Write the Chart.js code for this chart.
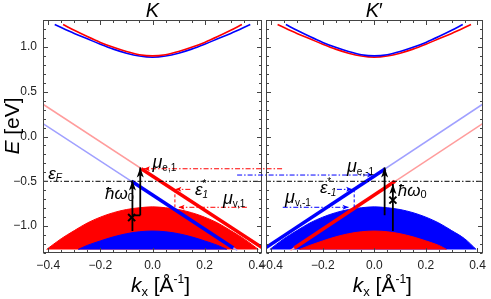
<!DOCTYPE html>
<html><head><meta charset="utf-8">
<script src="https://cdn.jsdelivr.net/npm/chart.js@4.4.1/dist/chart.umd.min.js"></script>
<style>
html,body{margin:0;padding:0;background:#fff;}
#wrap{position:relative;width:491px;height:299px;overflow:hidden;background:#fff}
#wrap canvas{position:absolute;left:0;top:0}
</style></head><body>
<div id="wrap"><canvas id="cK" width="491" height="299"></canvas><canvas id="cKp" width="491" height="299"></canvas></div>
<script>
// ================= DATA =================
const xTickValues = [-0.4, -0.2, 0.0, 0.2, 0.4];
const yTickValues = [-1.0, -0.5, 0.0, 0.5, 1.0];
const kRange = [-0.42, 0.42];
const eRange = [-1.3, 1.3];
const fermiLevel = -0.5;
const bandFloor = -1.26;

// ---- valley K ----
const condBlueK = [[-0.375,1.25],[-0.3,1.15],[-0.25,1.09],[-0.2,1.03],[-0.15,0.975],[-0.1,0.93],[-0.05,0.898],[0,0.885],[0.05,0.898],[0.1,0.93],[0.15,0.975],[0.2,1.03],[0.25,1.09],[0.3,1.15],[0.375,1.25]];
const condRedK  = [[-0.343,1.25],[-0.3,1.185],[-0.25,1.115],[-0.2,1.05],[-0.15,0.995],[-0.1,0.948],[-0.05,0.913],[0,0.90],[0.05,0.913],[0.1,0.948],[0.15,0.995],[0.2,1.05],[0.25,1.115],[0.3,1.185],[0.343,1.25]];
const valRedK   = [[-0.406,-1.26],[-0.35,-1.14],[-0.3,-1.05],[-0.25,-0.965],[-0.2,-0.90],[-0.15,-0.85],[-0.1,-0.815],[-0.05,-0.795],[0,-0.785],[0.05,-0.795],[0.1,-0.815],[0.15,-0.85],[0.2,-0.90],[0.25,-0.965],[0.3,-1.05],[0.35,-1.14],[0.406,-1.26]];
const valBlueK  = [[-0.285,-1.26],[-0.25,-1.215],[-0.2,-1.165],[-0.15,-1.12],[-0.1,-1.085],[-0.05,-1.063],[0,-1.055],[0.05,-1.063],[0.1,-1.085],[0.15,-1.12],[0.2,-1.165],[0.25,-1.215],[0.285,-1.26]];
const diracRedK  = [[-0.42,0.36],[0.42,-1.24]];
const diracBlueK = [[-0.42,0.145],[0.325,-1.27]];
const occRedK    = [[-0.043,-0.36],[0.42,-1.24]];
const occBlueK   = [[-0.08,-0.50],[0.31,-1.245]];
const muElecK    = [[0.497,-0.36],[-0.033,-0.36]];
const epsStarK   = [[0.145,-0.59],[0.088,-0.59]];
const epsDropK   = [[0.086,-0.59],[0.086,-0.79]];
const muValK     = [[0.362,-0.79],[0.10,-0.79]];
const pumpAK     = [[-0.077,-1.055],[-0.077,-0.49]];
const pumpBK     = [[-0.047,-0.88],[-0.047,-0.345]];
const pumpLinkK  = [[-0.077,-0.88],[-0.047,-0.88]];
const crossK     = [[-0.08,-0.905]];

// ---- valley K' ----
const condBlueKp = [[-0.343,1.25],[-0.3,1.185],[-0.25,1.115],[-0.2,1.05],[-0.15,0.995],[-0.1,0.948],[-0.05,0.913],[0,0.90],[0.05,0.913],[0.1,0.948],[0.15,0.995],[0.2,1.05],[0.25,1.115],[0.3,1.185],[0.343,1.25]];
const condRedKp  = [[-0.375,1.25],[-0.3,1.15],[-0.25,1.09],[-0.2,1.03],[-0.15,0.975],[-0.1,0.93],[-0.05,0.898],[0,0.885],[0.05,0.898],[0.1,0.93],[0.15,0.975],[0.2,1.03],[0.25,1.09],[0.3,1.15],[0.375,1.25]];
const valBlueKp  = [[-0.405,-1.26],[-0.35,-1.14],[-0.3,-1.05],[-0.25,-0.965],[-0.2,-0.90],[-0.15,-0.85],[-0.1,-0.815],[-0.05,-0.795],[0,-0.785],[0.05,-0.795],[0.1,-0.815],[0.15,-0.85],[0.2,-0.90],[0.25,-0.965],[0.3,-1.05],[0.35,-1.14],[0.395,-1.26]];
const valRedKp   = [[-0.29,-1.26],[-0.25,-1.215],[-0.2,-1.165],[-0.15,-1.12],[-0.1,-1.085],[-0.05,-1.063],[0,-1.055],[0.05,-1.063],[0.1,-1.085],[0.15,-1.12],[0.2,-1.165],[0.25,-1.215],[0.28,-1.26]];
const diracBlueKp = [[-0.42,-1.24],[0.42,0.36]];
const diracRedKp  = [[-0.325,-1.27],[0.42,0.145]];
const occBlueKp   = [[-0.42,-1.24],[0.043,-0.36]];
const occRedKp    = [[-0.31,-1.245],[0.08,-0.50]];
const muElecKp    = [[-0.532,-0.43],[-0.005,-0.43]];
const epsStarKp   = [[-0.145,-0.59],[-0.086,-0.59]];
const epsDropKp   = [[-0.078,-0.59],[-0.078,-0.79]];
const muValKp     = [[-0.355,-0.79],[-0.10,-0.79]];
const pumpAKp     = [[0.040,-0.88],[0.040,-0.345]];
const pumpBKp     = [[0.072,-1.055],[0.072,-0.53]];
const crossKp     = [[0.072,-0.71]];

// ================= STYLE / DRAWING =================
const FONT = '"Liberation Sans", "DejaVu Sans", Arial, sans-serif';
const RED = '#ff0000', BLUE = '#0000ff', LRED = '#ff9c9c', LBLUE = '#a0a0ff';
const DASHDOT = [5, 2, 1.5, 2];
const f = (size, italic) => (italic ? 'italic ' : '') + size + 'px ' + FONT;
const fmt = v => (v < 0 ? '\u2212' : '') + Math.abs(v).toFixed(1);

const panels = [
  {
    canvas: 'cK', area: [43, 262], showY: true,
    title: [['K', f(20, true), 0]],
    domes: [[valRedK, RED], [valBlueK, BLUE]],
    dirac: [[diracRedK, LRED], [diracBlueK, LBLUE]],
    occupied: [[occBlueK, BLUE], [occRedK, RED]],
    cond: [[condBlueK, BLUE], [condRedK, RED]],
    dash: [[muElecK, RED, true], [epsStarK, RED, true], [muValK, RED, true]],
    drops: [[epsDropK, RED]],
    pumps: [pumpAK, pumpBK], links: [pumpLinkK], cross: crossK,
    labels: [
      {at: [-0.40, -0.42], parts: [['\u03B5', f(17, true), 0], ['F', f(10, true), 4]]},
      {at: [-0.182, -0.645], parts: [['\u0127\u03C9', f(17, true), 0], ['0', f(11, false), 4]]},
      {at: [0.0, -0.30], parts: [['\u03BC', f(18, true), 0], ['e,1', f(10, false), 5]]},
      {at: [0.163, -0.60], parts: [['\u03B5', f(17, true), 0], ['*', f(10, false), -6], ['1', f(10, true), 5, true]]},
      {at: [0.27, -0.70], parts: [['\u03BC', f(18, true), 0], ['v,1', f(10, false), 5]]}
    ]
  },
  {
    canvas: 'cKp', area: [266, 483], showY: false,
    title: [['K', f(20, true), 0], ['\u2032', f(20, false), 0]],
    domes: [[valBlueKp, BLUE], [valRedKp, RED]],
    dirac: [[diracBlueKp, LBLUE], [diracRedKp, LRED]],
    occupied: [[occRedKp, RED], [occBlueKp, BLUE]],
    cond: [[condRedKp, RED], [condBlueKp, BLUE]],
    dash: [[muElecKp, BLUE, true], [epsStarKp, BLUE, true], [muValKp, BLUE, true]],
    drops: [[epsDropKp, BLUE]],
    pumps: [pumpAKp, pumpBKp], links: [], cross: crossKp,
    labels: [
      {at: [-0.106, -0.342], parts: [['\u03BC', f(18, true), 0], ['e,-1', f(10, false), 5]]},
      {at: [-0.211, -0.576], parts: [['\u03B5', f(17, true), 0], ['*', f(10, false), -6], ['-1', f(10, true), 5, true]]},
      {at: [-0.346, -0.688], parts: [['\u03BC', f(18, true), 0], ['v,-1', f(10, false), 5]]},
      {at: [0.091, -0.61], parts: [['\u0127\u03C9', f(17, true), 0], ['0', f(11, false), 4]]}
    ]
  }
];

const toPts = arr => arr.map(p => ({x: p[0], y: p[1]}));

function buildDatasets(P) {
  const list = [];
  const add = (pts, color, width, extra) => list.push(Object.assign({
    data: toPts(pts), borderColor: color, backgroundColor: color, borderWidth: width,
    pointRadius: 0, fill: false, tension: 0
  }, extra || {}));
  P.domes.forEach(([pts, c]) => add(pts, c, 1, {fill: {value: bandFloor}, cubicInterpolationMode: 'monotone'}));
  P.dirac.forEach(([pts, c]) => add(pts, c, 1.5));
  P.occupied.forEach(([pts, c]) => add(pts, c, 3.5));
  P.cond.forEach(([pts, c]) => add(pts, c, 1.6, {cubicInterpolationMode: 'monotone'}));
  add([[kRange[0], fermiLevel], [kRange[1], fermiLevel]], '#000', 1, {borderDash: DASHDOT});
  P.dash.forEach(([pts, c]) => add(pts, c, 1, {borderDash: DASHDOT, clip: false}));
  P.drops.forEach(([pts, c]) => add(pts, c, 1, {borderDash: [3, 2]}));
  P.pumps.forEach(pts => add(pts, '#000', 1.8));
  P.links.forEach(pts => add(pts, '#000', 1.8));
  add(P.cross, '#000', 2, {showLine: false, pointStyle: 'crossRot', pointRadius: 5, pointBorderWidth: 2, pointBorderColor: '#000'});
  return list.reverse();
}

function head(ctx, x1, y1, x2, y2, len, hw, color) {
  const ang = Math.atan2(y2 - y1, x2 - x1);
  ctx.save(); ctx.translate(x2, y2); ctx.rotate(ang);
  ctx.beginPath(); ctx.moveTo(0, 0); ctx.lineTo(-len, hw); ctx.lineTo(-len * 0.75, 0); ctx.lineTo(-len, -hw); ctx.closePath();
  ctx.fillStyle = color; ctx.fill(); ctx.restore();
}

function rich(ctx, x, y, parts, align) {
  let w = 0, prevStart = x;
  const m = parts.map(p => { ctx.font = p[1]; return ctx.measureText(p[0]).width; });
  parts.forEach((p, i) => { if (!p[3]) w += m[i]; });
  let cx = align === 'center' ? x - w / 2 : x;
  parts.forEach((p, i) => {
    ctx.font = p[1];
    let px = cx;
    if (p[3]) px = prevStart; else prevStart = cx;
    ctx.fillText(p[0], px, y + p[2]);
    if (!p[3]) cx += m[i];
  });
}

function makeDecor(P) {
  return {
    id: 'decor_' + P.canvas,
    afterDatasetsDraw(chart) {
      const {ctx, chartArea: a, scales: {x, y}} = chart;
      const X = v => x.getPixelForValue(v), Y = v => y.getPixelForValue(v);
      ctx.save();
      P.dash.forEach(([pts, c, h]) => { if (h) head(ctx, X(pts[0][0]), Y(pts[0][1]), X(pts[1][0]), Y(pts[1][1]), 6, 2.5, c); });
      P.pumps.forEach(pts => head(ctx, X(pts[0][0]), Y(pts[0][1]), X(pts[1][0]), Y(pts[1][1]), 10, 3.5, '#000'));
      ctx.strokeStyle = '#444'; ctx.lineWidth = 1;
      const L = Math.round(a.left) + 0.5, R = Math.round(a.right) - 0.5, T = Math.round(a.top) + 0.5, B = Math.round(a.bottom) - 0.5;
      ctx.strokeRect(L, T, R - L, B - T);
      ctx.beginPath();
      for (let i = -8; i <= 8; i++) {
        const px = Math.round(X(i * 0.05)) + 0.5, len = (i % 4 === 0) ? 4.5 : 2.5;
        ctx.moveTo(px, B); ctx.lineTo(px, B - len); ctx.moveTo(px, T); ctx.lineTo(px, T + len);
      }
      for (let i = -13; i <= 13; i++) {
        const py = Math.round(Y(i * 0.1)) + 0.5, len = (i % 5 === 0) ? 4.5 : 2.5;
        ctx.moveTo(L, py); ctx.lineTo(L + len, py); ctx.moveTo(R, py); ctx.lineTo(R - len, py);
      }
      ctx.stroke();
      ctx.fillStyle = '#000'; ctx.textBaseline = 'middle'; ctx.textAlign = 'left';
      P.labels.forEach(l => rich(ctx, X(l.at[0]), Y(l.at[1]), l.parts, 'left'));
      const cx = (a.left + a.right) / 2;
      ctx.textBaseline = 'alphabetic';
      rich(ctx, cx, 17, P.title, 'center');
      rich(ctx, cx + 8, 292, [['k', f(21, true), 0], ['x', f(13, false), 4], [' [\u00C5', f(21, false), 0], ['-1', f(12, false), -9], [']', f(21, false), 0]], 'center');
      if (P.showY) {
        ctx.save(); ctx.translate(19, 126); ctx.rotate(-Math.PI / 2);
        rich(ctx, 0, 0, [['E', f(21, true), 0], [' [eV]', f(21, false), 0]], 'center');
        ctx.restore();
      }
      ctx.restore();
    }
  };
}

panels.forEach(P => {
  const yW = P.showY ? 43 : 0;
  const tickCfg = {padding: 5, font: {family: FONT, size: 12}, color: '#222', callback: fmt, maxRotation: 0, autoSkip: false};
  new Chart(document.getElementById(P.canvas), {
    type: 'line',
    data: {datasets: buildDatasets(P)},
    options: {
      responsive: false, animation: false, events: [], devicePixelRatio: 1,
      layout: {padding: {left: P.area[0] - yW, right: 491 - P.area[1], top: 20, bottom: 0}},
      plugins: {legend: {display: false}, tooltip: {enabled: false}, title: {display: false}},
      scales: {
        x: {type: 'linear', min: kRange[0], max: kRange[1],
            afterBuildTicks: s => { s.ticks = xTickValues.map(v => ({value: v})); },
            afterFit: s => { s.height = 46; },
            grid: {display: false, drawTicks: false}, border: {display: false}, ticks: tickCfg},
        y: {type: 'linear', min: eRange[0], max: eRange[1], display: P.showY,
            afterBuildTicks: s => { s.ticks = yTickValues.map(v => ({value: v})); },
            afterFit: s => { s.width = yW; },
            grid: {display: false, drawTicks: false}, border: {display: false}, ticks: Object.assign({}, tickCfg, {padding: 6})}
      }
    },
    plugins: [makeDecor(P)]
  });
});
</script>
</body></html>
